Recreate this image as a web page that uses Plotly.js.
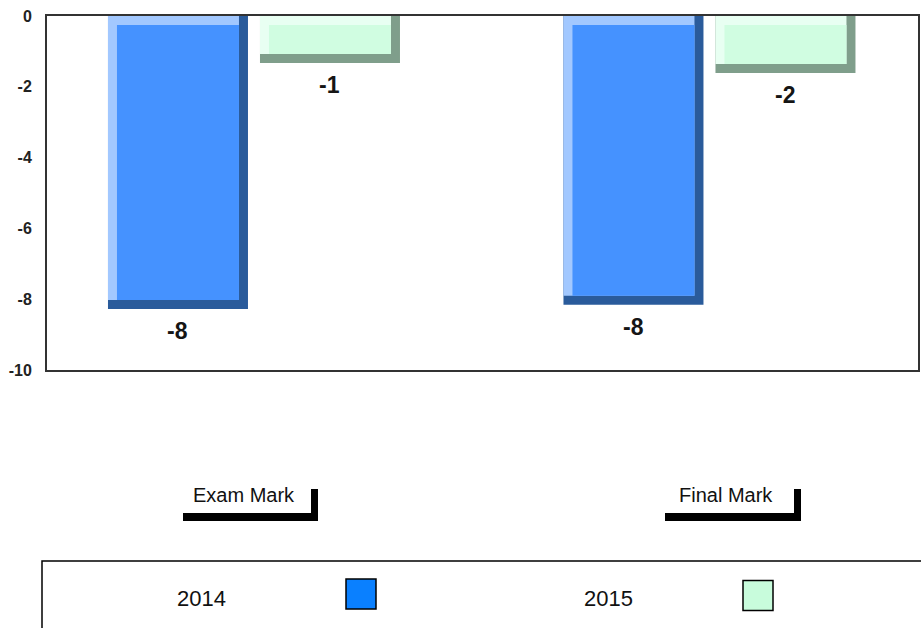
<!DOCTYPE html>
<html>
<head>
<meta charset="utf-8">
<script src="https://cdn.plot.ly/plotly-3.0.1.min.js"></script>
<style>html,body{margin:0;padding:0;background:#fff;}#chart{width:921px;height:628px;}</style>
</head>
<body>
<div id="chart"></div>
<script>
// ---- data ----
var categories = ['Exam Mark', 'Final Mark'];
var seriesNames = ['2014', '2015'];
var values2014 = [-8.28, -8.16];
var values2015 = [-1.33, -1.61];
var yTicks = [0, -2, -4, -6, -8, -10];

// ---- styles ----
var W = 921, H = 628;
var M = {l: 47, r: 3, t: 16, b: 258};
var plotW = W - M.l - M.r, plotH = H - M.t - M.b;
var xRange = [-0.4544, 1.4578];
var yRange = [-10, 0];
var pxPerX = plotW / (xRange[1] - xRange[0]);
var pxPerY = plotH / (yRange[1] - yRange[0]);
var barWidth = 140 / pxPerX;
var offsets = [-146 / pxPerX, 6 / pxPerX];
var bevel = 9;
var tx = bevel / pxPerX, ty = bevel / pxPerY;

var styles = [
  {face: '#4592ff', light: '#a2c8ff', dark: '#2a5b9b', legend: '#0a80ff'},
  {face: '#d0fde1', light: '#e8fff2', dark: '#7f9e8b', legend: '#c8fcdc'}
];
var seriesValues = [values2014, values2015];

var traces = [];
var annotations = [];
var xIdx = categories.map(function (c, i) { return i; });

seriesValues.forEach(function (vals, s) {
  var st = styles[s], o = offsets[s];
  // dark (right + bottom edges)
  traces.push({type: 'bar', x: categories, y: vals, base: 0, offset: o, width: barWidth,
    marker: {color: st.dark, line: {width: 0}}, name: seriesNames[s], showlegend: false, hoverinfo: 'y'});
  // light (left + top edges)
  traces.push({type: 'bar', x: categories, y: vals.map(function (v) { return v + ty; }), base: 0,
    offset: o, width: barWidth - tx, marker: {color: st.light, line: {width: 0}},
    showlegend: false, hoverinfo: 'skip'});
  // face
  traces.push({type: 'bar', x: categories, y: vals.map(function (v) { return v + 2 * ty; }), base: -ty,
    offset: o + tx, width: barWidth - 2 * tx, marker: {color: st.face, line: {width: 0}},
    showlegend: false, hoverinfo: 'skip'});
  // value labels
  vals.forEach(function (v, i) {
    annotations.push({x: xIdx[i] + o + barWidth / 2, y: v, xref: 'x', yref: 'y',
      text: String(Math.round(v)), showarrow: false, yanchor: 'middle', yshift: -22,
      font: {family: 'Liberation Sans, Arial, sans-serif', size: 23, color: '#151515', weight: 'bold'}});
  });
});

function px(xp) { return (xp - M.l) / plotW; }
function py(yp) { return (H - M.b - yp) / plotH; }

var shapes = [];
// category label brackets
var catLabelPos = [{cx: 243.5, x0: 183, x1: 318}, {cx: 725.5, x0: 665, x1: 801}];
categories.forEach(function (c, i) {
  var p = catLabelPos[i];
  annotations.push({xref: 'paper', yref: 'paper', x: px(p.cx), y: py(495), text: c, showarrow: false,
    xanchor: 'center', yanchor: 'middle',
    font: {family: 'Liberation Sans, Arial, sans-serif', size: 20, color: '#111'}});
  shapes.push({type: 'rect', xref: 'paper', yref: 'paper', x0: px(p.x0), x1: px(p.x1), y0: py(513), y1: py(521),
    fillcolor: '#000', line: {width: 0}});
  shapes.push({type: 'rect', xref: 'paper', yref: 'paper', x0: px(p.x1 - 7), x1: px(p.x1), y0: py(489), y1: py(521),
    fillcolor: '#000', line: {width: 0}});
});

// legend box
shapes.push({type: 'rect', xref: 'paper', yref: 'paper', x0: px(42), x1: px(940), y0: py(561), y1: py(660),
  fillcolor: 'rgba(0,0,0,0)', line: {color: '#000', width: 1.5}});
var legendPos = [{tx: 201, sx: 346, sy: 579}, {tx: 608.5, sx: 743, sy: 580.5}];
seriesNames.forEach(function (n, s) {
  var p = legendPos[s];
  annotations.push({xref: 'paper', yref: 'paper', x: px(p.tx), y: py(598.5), text: n, showarrow: false,
    xanchor: 'center', yanchor: 'middle',
    font: {family: 'Liberation Sans, Arial, sans-serif', size: 22, color: '#111'}});
  shapes.push({type: 'rect', xref: 'paper', yref: 'paper', x0: px(p.sx), x1: px(p.sx + 30), y0: py(p.sy), y1: py(p.sy + 30),
    fillcolor: styles[s].legend, line: {color: '#000', width: 1.5}});
});

var layout = {
  width: W, height: H,
  margin: M,
  paper_bgcolor: '#fff', plot_bgcolor: '#fff',
  barmode: 'overlay',
  showlegend: false,
  xaxis: {type: 'category', range: xRange, showticklabels: false, ticks: '', showgrid: false, zeroline: false,
    showline: true, mirror: true, linecolor: '#333', linewidth: 2, layer: 'below traces', fixedrange: true},
  yaxis: {range: yRange, tickvals: yTicks, ticktext: yTicks.map(String), showgrid: false, zeroline: false,
    showline: true, mirror: true, linecolor: '#333', linewidth: 2, layer: 'below traces',
    ticks: 'outside', ticklen: 10, tickcolor: 'rgba(0,0,0,0)',
    tickfont: {family: 'Liberation Sans, Arial, sans-serif', size: 16, color: '#222', weight: 'bold'}, fixedrange: true},
  annotations: annotations,
  shapes: shapes
};

Plotly.newPlot('chart', traces, layout, {displayModeBar: false, staticPlot: true});
</script>
</body>
</html>
